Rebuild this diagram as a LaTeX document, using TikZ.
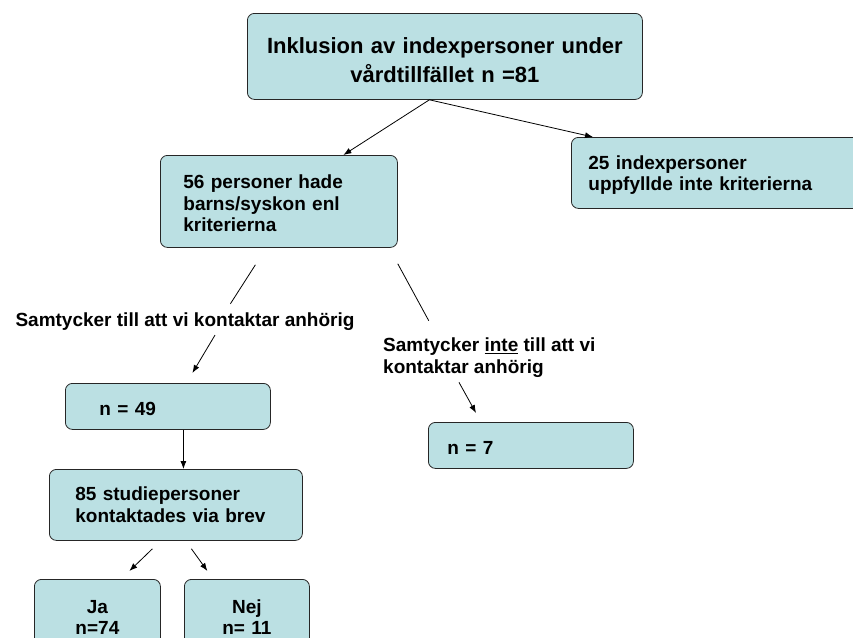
\documentclass[tikz,border=0pt]{standalone}
\usepackage{fontspec}
\setmainfont{Liberation Sans}
\usetikzlibrary{arrows.meta,positioning}
\definecolor{boxfill}{HTML}{BBE0E3}
\newcommand{\flowtext}{\fontsize{19}{21.5}\selectfont\bfseries}
\newcommand{\headtext}{\fontsize{22}{29}\selectfont\bfseries}

\begin{document}
\begin{tikzpicture}[x=1pt,y=-1pt]
        \tikzstyle{flowbox}=[draw=black!85, fill=boxfill, rounded corners=7pt, line width=0.8pt, anchor=north west, align=left, inner ysep=0pt, font=\flowtext]
        \tikzstyle{flowlabel}=[inner sep=0pt, align=left, font=\flowtext]
        \tikzstyle{pointer}=[-{Latex[length=8pt,width=6pt]}, line width=0.8pt]
        \useasboundingbox (0,0) rectangle (853,637);
        \node [flowbox, align=center, font=\headtext, text width=375pt, inner xsep=10pt, minimum height=86pt] (incl) at (247,13) {\rule{0pt}{24pt}Inklusion av indexpersoner under\\ vårdtillfället n =81};
        \node [flowbox, text width=191pt, inner xsep=23pt, minimum height=92pt] (kids) at (160,155) {\rule{0pt}{18pt}56 personer hade\\ barns/syskon enl\\ kriterierna};
        \node [flowbox, text width=266pt, inner xsep=17pt, minimum height=71pt] (none) at (571,137) {\rule{0pt}{18pt}25 indexpersoner\\ uppfyllde inte kriterierna};
        \node [flowlabel, anchor=center] (yeslbl) at (185,322) {Samtycker till att vi kontaktar anhörig};
        \node [flowlabel, anchor=west] (nolbl) at (383,357.5) {Samtycker \underline{inte} till att vi\\ kontaktar anhörig};
        \node [flowbox, text width=137pt, inner xsep=34pt, minimum height=46pt] (n49) at (65,383) {\rule{0pt}{18pt}n = 49};
        \node [flowbox, text width=167pt, inner xsep=19pt, minimum height=46pt] (n7) at (428,422) {\rule{0pt}{18pt}n = 7};
        \node [flowbox, text width=201pt, inner xsep=26pt, minimum height=71pt] (brev) at (49,469) {85 studiepersoner\\ kontaktades via brev};
        \node [flowbox, align=center, text width=110pt, inner xsep=8pt, minimum height=71pt] (ja) at (34,579) {\rule{0pt}{18pt}Ja\\ n=74};
        \node [flowbox, align=center, text width=109pt, inner xsep=8pt, minimum height=71pt] (nej) at (184,579) {\rule{0pt}{18pt}Nej\\ n= 11};
        % inclusion split
        \draw [pointer] ([xshift=-15.5pt]incl.south) -- ([xshift=64.5pt]kids.north);
        \draw [pointer] ([xshift=-15.5pt]incl.south) -- ([xshift=22pt]none.north west);
        % consent yes / no
        \draw [line width=0.8pt] ([xshift=-23.5pt,yshift=-17pt]kids.south) -- ++(-25,39);
        \draw [pointer] ([xshift=30pt,yshift=-4pt]yeslbl.south) -- ([xshift=24.5pt,yshift=10pt]n49.north);
        \draw [line width=0.8pt] ([yshift=-16pt]kids.south east) -- ++(31,57);
        \draw [pointer] ([xshift=76pt,yshift=-5pt]nolbl.south west) -- ([xshift=48pt,yshift=9pt]n7.north west);
        % letters
        \draw [pointer] ([xshift=15.5pt]n49.south) -- ([xshift=15.5pt]n49.south |- brev.north);
        \draw [pointer] ([xshift=-23.5pt,yshift=-8pt]brev.south) -- ([xshift=32pt,yshift=8pt]ja.north);
        \draw [pointer] ([xshift=15.5pt,yshift=-8pt]brev.south) -- ([xshift=-39.5pt,yshift=8pt]nej.north);
\end{tikzpicture}
\end{document}
